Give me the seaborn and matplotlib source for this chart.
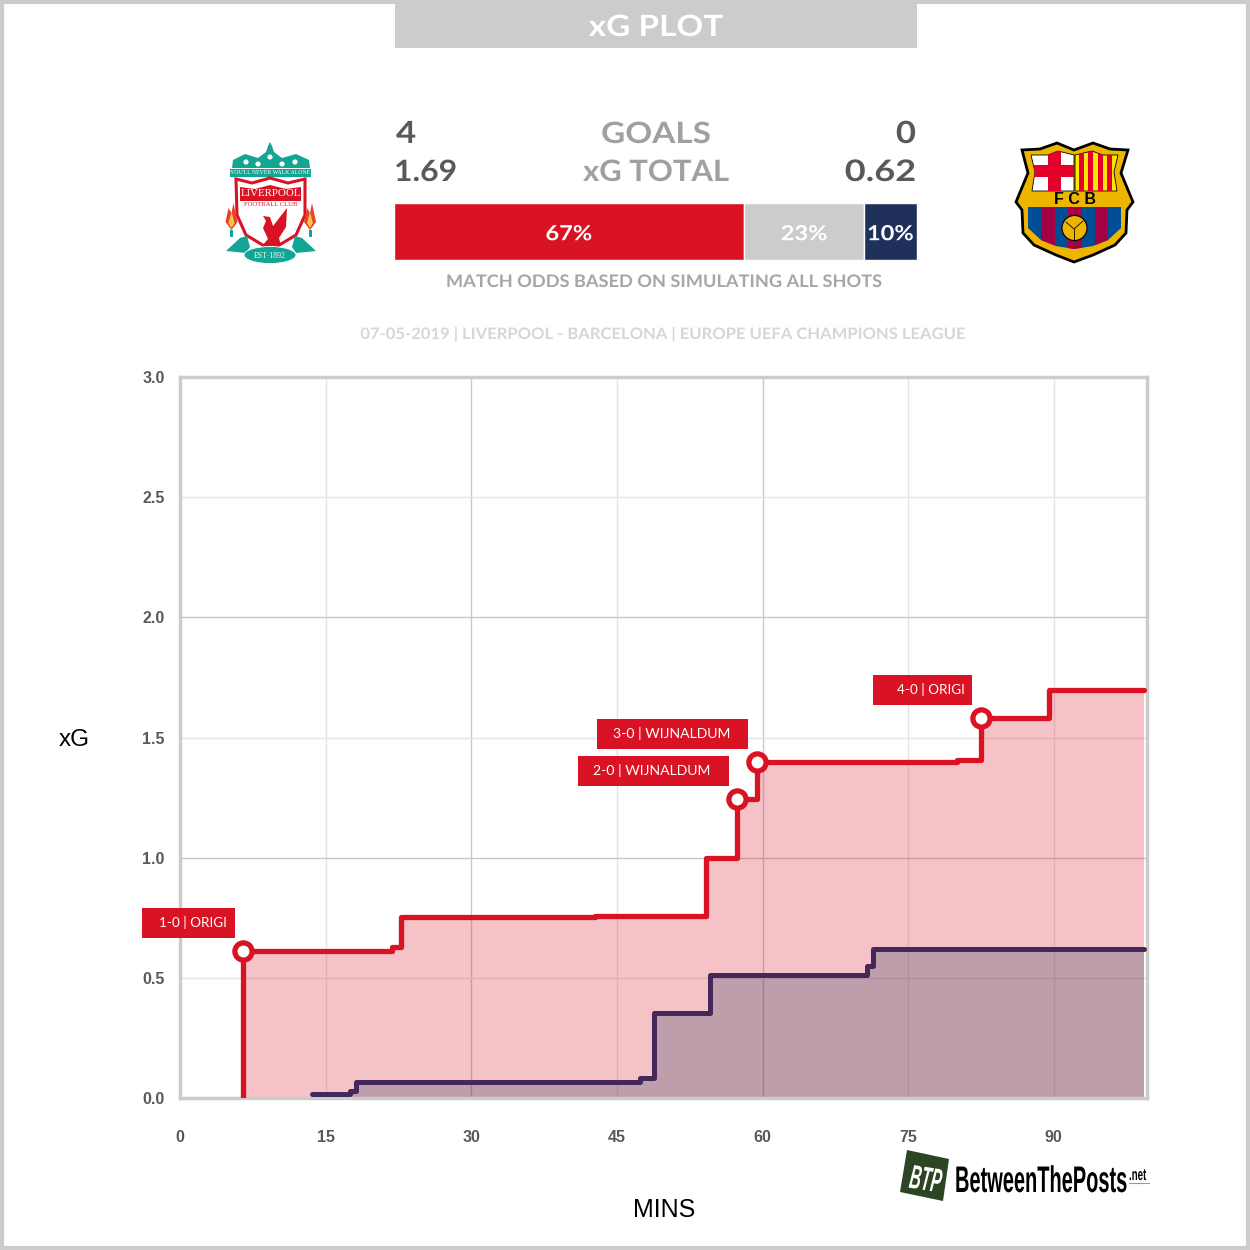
import matplotlib
matplotlib.use("Agg")
import matplotlib.patheffects as path_effects
import matplotlib.pyplot as plt
from matplotlib.patches import Circle, Ellipse, Polygon, Rectangle
from matplotlib.transforms import Affine2D
import pandas as pd
import seaborn as sns

home_minutes = [6.5, 6.5, 21.8, 22.8, 42.7, 54.2, 57.4, 59.4, 80.0, 82.5, 89.5, 99.3]
home_xg = [0.0, 0.61, 0.63, 0.753, 0.757, 1.0, 1.244, 1.40, 1.405, 1.58, 1.697, 1.697]
away_minutes = [13.6, 17.5, 18.1, 47.4, 48.8, 54.6, 70.8, 71.4, 99.3]
away_xg = [0.015, 0.03, 0.067, 0.083, 0.355, 0.51, 0.55, 0.62, 0.62]

goal_minutes = [6.5, 57.4, 59.4, 82.5]
goal_xg = [0.61, 1.244, 1.40, 1.58]
goal_labels = ["1-0 | ORIGI", "2-0 | WIJNALDUM", "3-0 | WIJNALDUM", "4-0 | ORIGI"]
goal_box_widths = [93, 151, 151, 99]

odds_labels = ["67%", "23%", "10%"]
odds_values = [67, 23, 10]
odds_colors = ["#d91323", "#cccccc", "#1f315b"]

x_ticks = [0, 15, 30, 45, 60, 75, 90]
y_ticks = [0.0, 0.5, 1.0, 1.5, 2.0, 2.5, 3.0]

RED = "#d91323"
DARK = "#44285a"
NAVY = "#1f315b"
GREY = "#cccccc"
TEAL = "#12a594"
HEAD_FONT = ["Lato", "DejaVu Sans"]
TICK_FONT = ["Liberation Sans", "DejaVu Sans"]

sns.set_style("white")
fig = plt.figure(figsize=(12.5, 12.5), dpi=100, facecolor="white")


class StretchY(path_effects.AbstractPathEffect):
    # Stretches glyphs about the baseline, the reference fonts are not installed.
    def __init__(self, factor):
        super().__init__()
        self.factor = factor

    def draw_path(self, renderer, gc, tpath, affine, rgbFace=None):
        renderer.draw_path(gc, tpath, Affine2D().scale(1, self.factor) + affine, rgbFace)


def px_axes(left, top, right, bottom, **kwargs):
    return fig.add_axes(
        [left / 1250, 1 - bottom / 1250, (right - left) / 1250, (bottom - top) / 1250],
        **kwargs,
    )


# Main xG chart.
ax = px_axes(180, 377, 1147, 1098)
home_df = pd.DataFrame({"minute": home_minutes, "xg": home_xg})
away_df = pd.DataFrame({"minute": away_minutes, "xg": away_xg})

ax.fill_between(home_minutes, home_xg, step="post", color=RED, alpha=0.25, lw=0, zorder=2)
ax.fill_between(away_minutes, away_xg, step="post", color=NAVY, alpha=0.25, lw=0, zorder=2.1)
sns.lineplot(
    data=home_df, x="minute", y="xg", estimator=None, sort=False, ax=ax,
    color=RED, lw=3.8, drawstyle="steps-post", zorder=3,
)
sns.lineplot(
    data=away_df, x="minute", y="xg", estimator=None, sort=False, ax=ax,
    color=DARK, lw=3.6, drawstyle="steps-post", zorder=3.1,
)
ax.plot(
    goal_minutes, goal_xg, ls="none", marker="o", ms=12.4, mfc="white",
    mec=RED, mew=3.8, zorder=4, clip_on=False,
)
ax.plot([0, 6.5], [0, 0], color="#999999", lw=1, zorder=2.5)

ax.set_xlim(0, 99.6)
ax.set_ylim(0, 3.0)
ax.set_xticks(x_ticks)
ax.set_yticks(y_ticks)
ax.set_xlabel("")
ax.set_ylabel("")
ax.grid(True, color="#e4e4e4", lw=1, zorder=1)
ax.set_axisbelow(True)
for line, tick in zip(ax.get_xgridlines(), x_ticks):
    if tick in (30, 60):
        line.set_color("#c8c8c8")
for line, tick in zip(ax.get_ygridlines(), y_ticks):
    if tick in (1.0, 2.0):
        line.set_color("#c8c8c8")
for spine in ax.spines.values():
    spine.set_color(GREY)
    spine.set_linewidth(2.5)
ax.tick_params(axis="x", length=0, pad=23, labelcolor="#595959")
ax.tick_params(axis="y", length=0, pad=11, labelcolor="#595959")
ax.set_yticklabels([f"{t:.1f}" for t in y_ticks])
for label in ax.get_xticklabels() + ax.get_yticklabels():
    label.set_fontfamily(TICK_FONT)
    label.set_fontweight("bold")
    label.set_fontsize(11.5)

# Odds bar.
bar = px_axes(393.5, 202.5, 916.5, 259.5)
odds_df = pd.DataFrame({"label": odds_labels, "value": odds_values})
odds_df["left"] = odds_df["value"].cumsum() - odds_df["value"]
bar.barh(
    [0, 0, 0], odds_df["value"], left=odds_df["left"], height=1,
    color=odds_colors, edgecolor="white", linewidth=1.0,
)
for _, row in odds_df.iterrows():
    bar.text(
        row["left"] + row["value"] / 2, -0.03, row["label"], color="white",
        ha="center", va="center", fontsize=17, fontweight="bold", family=HEAD_FONT,
        path_effects=[StretchY(0.88)],
    )
bar.set_xlim(0, 100)
bar.set_ylim(-0.5, 0.5)
bar.axis("off")

# Page furniture, drawn in pixel coordinates.
page = px_axes(0, 0, 1250, 1250, zorder=-1)
page.set_xlim(0, 1250)
page.set_ylim(1250, 0)
page.axis("off")
page.add_patch(Rectangle((2, 2), 1246, 1246, fill=False, edgecolor=GREY, lw=3))
page.add_patch(Rectangle((395, 4), 522, 44, facecolor=GREY, edgecolor="none"))

over = px_axes(0, 0, 1250, 1250, zorder=10)
over.set_xlim(0, 1250)
over.set_ylim(1250, 0)
over.axis("off")
over.patch.set_alpha(0)


def head(x, y, s, size, color, ha="center", stretch=0.88):
    # y is the baseline of the text.
    over.text(x, y, s, fontsize=size, color=color, ha=ha, va="baseline",
              fontweight="bold", family=HEAD_FONT, path_effects=[StretchY(stretch)])


head(656, 36, "xG PLOT", 24, "white")
head(396, 143, "4", 25, "#595959", ha="left")
head(656, 143, "GOALS", 24, "#a0a0a0")
head(916, 143, "0", 25, "#595959", ha="right")
head(394, 181, "1.69", 23, "#595959", ha="left", stretch=0.92)
head(656, 181, "xG TOTAL", 22.3, "#a0a0a0", stretch=0.95)
head(916, 181, "0.62", 26, "#595959", ha="right", stretch=0.82)
head(664, 287, "MATCH ODDS BASED ON SIMULATING ALL SHOTS", 13.1, "#a6a6a6", stretch=0.95)
head(664, 339, "07-05-2019 | LIVERPOOL - BARCELONA | EUROPE UEFA CHAMPIONS LEAGUE", 11.95, "#d6d6d6", stretch=0.95)

over.text(74, 740, "xG", fontsize=17.5, color="black", ha="center", va="center", family=TICK_FONT)
over.text(664, 1210, "MINS", fontsize=18, color="black", ha="center", va="center", family=TICK_FONT)

# Goal flags sit a fixed pixel offset up and left of each marker.
for minute, xg, text, width in zip(goal_minutes, goal_xg, goal_labels, goal_box_widths):
    px, py = ax.transData.transform((minute, xg))
    py = 1250 - py
    over.add_patch(Rectangle((px - 8.5 - width, py - 43), width, 30, facecolor=RED, edgecolor="none"))
    over.text(
        px - 8.5 - (8 if width < 120 else 18), py - 28.5, text, color="white", ha="right",
        va="center", fontsize=9.7 if width < 120 else 10.1, family=HEAD_FONT,
    )


def poly(points, **kwargs):
    patch = Polygon(points, closed=True, **kwargs)
    over.add_patch(patch)
    return patch


# Liverpool crest.
poly([(232, 168), (233, 160), (245, 154), (258, 158), (266, 152), (268, 146), (270, 142), (272, 146),
      (274, 152), (282, 158), (296, 154), (309, 160), (310, 168)], facecolor=TEAL, edgecolor="none")
for cx, cy in [(246, 162), (258, 164), (270, 157), (282, 164), (295, 162)]:
    over.add_patch(Circle((cx, cy), 2.6, facecolor="white", edgecolor="none"))
over.add_patch(Rectangle((230, 169), 81, 8, facecolor=TEAL, edgecolor="none"))
over.text(270.5, 173, "YOU'LL NEVER WALK ALONE", color="white", fontsize=4.2,
          ha="center", va="center", family="Liberation Serif")
poly([(236, 179), (252, 183), (270, 178), (288, 183), (305, 179), (305, 215),
      (296, 235), (271, 250), (246, 235), (237, 215)],
     facecolor="white", edgecolor=RED, lw=2.2)
poly([(240, 187), (255, 189), (270, 185), (286, 189), (301, 187), (301, 201), (240, 201)],
     facecolor=RED, edgecolor="none")
over.text(270.5, 194, "LIVERPOOL", color="white", fontsize=7.8, ha="center", va="center",
          family="Liberation Serif")
over.text(270.5, 204, "FOOTBALL CLUB", color=RED, fontsize=4.8, ha="center", va="center",
          family="Liberation Serif")
poly([(263, 216), (270, 217), (273, 226), (287, 208), (286, 227), (279, 238), (281, 246),
      (262, 246), (268, 239), (263, 228), (266, 221)], facecolor=RED, edgecolor="none")
for fx in (231.5, 310):
    poly([(fx - 6, 222), (fx - 3, 208), (fx, 213), (fx + 2, 203), (fx + 6, 222), (fx, 230)],
         facecolor="#e8432a", edgecolor="none")
    poly([(fx - 3, 223), (fx, 212), (fx + 3, 223), (fx, 228)], facecolor="#f7c948", edgecolor="none")
    over.add_patch(Rectangle((fx - 1.5, 230), 3, 7, facecolor=TEAL, edgecolor="none"))
poly([(226, 251), (240, 238), (247, 236), (250, 247), (246, 253)], facecolor=TEAL, edgecolor="none")
poly([(316, 251), (302, 238), (295, 236), (292, 247), (296, 253)], facecolor=TEAL, edgecolor="none")
over.add_patch(Ellipse((270, 255), 52, 17, facecolor=TEAL, edgecolor="white", lw=0.6))
over.text(270, 256.5, "EST·1892", color="white", fontsize=5.6, ha="center", va="center",
          family="Liberation Serif")

# Barcelona crest.
poly([(1022, 150), (1040, 149), (1057, 143), (1074, 150), (1093, 143), (1110, 149), (1128, 150),
      (1121, 173), (1133, 202), (1127, 210), (1126, 233), (1115, 245), (1093, 255), (1074, 262),
      (1056, 255), (1034, 245), (1023, 233), (1022, 210), (1016, 202), (1028, 173)],
     facecolor="#edb500", edgecolor="black", lw=2)
left_panel = poly([(1031, 155), (1048, 155), (1058, 151), (1074, 155), (1074, 191), (1032, 191),
                   (1035, 172)], facecolor="white", edgecolor="black", lw=0.6)
cross_v = Rectangle((1048, 150), 13, 42, facecolor="#e4002b", edgecolor="none")
cross_h = Rectangle((1031, 165), 44, 12, facecolor="#e4002b", edgecolor="none")
for patch in (cross_v, cross_h):
    over.add_patch(patch)
    patch.set_clip_path(left_panel)
right_panel = poly([(1075, 155), (1092, 151), (1103, 155), (1118, 155), (1114, 172), (1117, 191),
                    (1075, 191)], facecolor="#ffe600", edgecolor="black", lw=0.6)
for sx in (1079, 1088, 1098, 1107):
    stripe = Rectangle((sx, 150), 5, 42, facecolor="#e4002b", edgecolor="none")
    over.add_patch(stripe)
    stripe.set_clip_path(right_panel)
over.text(1074.5, 199.5, "F C B", color="black", fontsize=11.5, fontweight="bold",
          ha="center", va="center", family=TICK_FONT)
lower = poly([(1028, 207), (1121, 207), (1121, 228), (1108, 240), (1093, 246), (1074, 249),
              (1056, 246), (1041, 240), (1028, 228)],
             facecolor="#004d98", edgecolor="none")
for sx in (1041, 1068, 1094.5):
    stripe = Rectangle((sx, 205), 13.5, 46, facecolor="#a50044", edgecolor="none")
    over.add_patch(stripe)
    stripe.set_clip_path(lower)
over.add_patch(Circle((1074.5, 228), 12.5, facecolor="#edb500", edgecolor="black", lw=0.8))
over.plot([1066, 1074, 1083], [222, 229, 221], color="black", lw=0.6)
over.plot([1074, 1074], [229, 240], color="black", lw=0.6)

# BetweenThePosts logo.
poly([(907, 1150), (949, 1159), (943, 1201), (900, 1192)], facecolor="#2c4522", edgecolor="none")
over.text(924, 1190, "BTP", color="white", fontsize=11.5, fontweight="bold", fontstyle="italic",
          ha="center", va="baseline", rotation=-9, rotation_mode="anchor", family=TICK_FONT,
          path_effects=[StretchY(2.1)])
over.text(955, 1192, "BetweenThePosts", color="black", fontsize=14.4, fontweight="bold",
          ha="left", va="baseline", family=TICK_FONT, path_effects=[StretchY(1.85)])
over.text(1129, 1180, ".net", color="black", fontsize=7, fontweight="bold",
          ha="left", va="baseline", family=TICK_FONT, path_effects=[StretchY(1.7)])
over.plot([1129, 1149], [1183, 1183], color="#999999", lw=0.8)

fig.savefig("out.png", dpi=100, facecolor="white")
